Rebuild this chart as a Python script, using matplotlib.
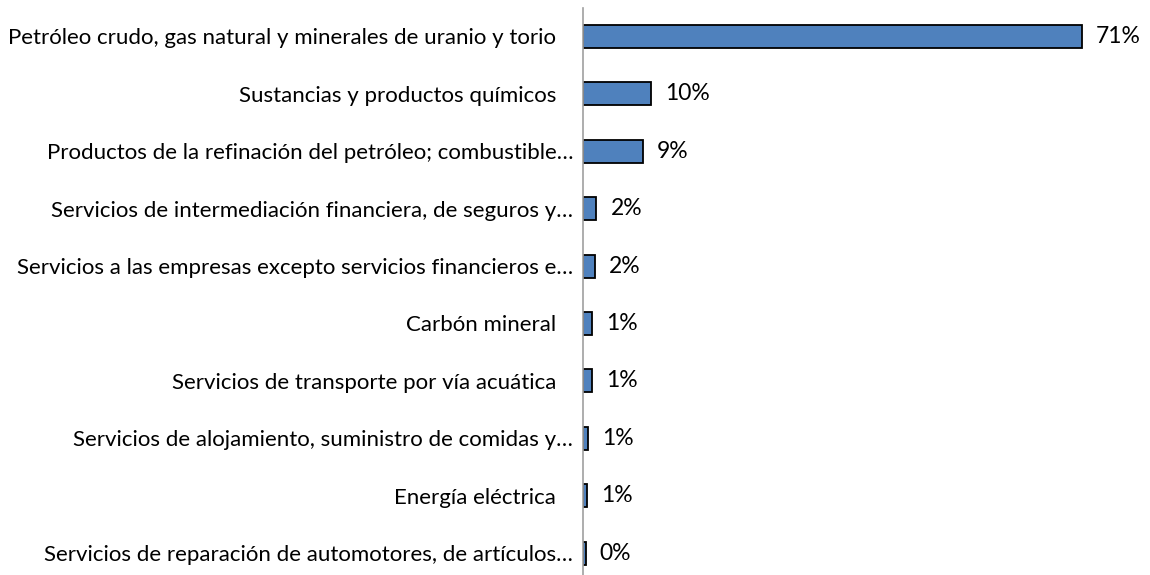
import matplotlib
matplotlib.use("Agg")
import matplotlib.pyplot as plt

categories = [
    "Petróleo crudo, gas natural y minerales de uranio y torio   ",
    "Sustancias y productos químicos   ",
    "Productos de la refinación del petróleo; combustible…",
    "Servicios de intermediación financiera, de seguros y…",
    "Servicios a las empresas excepto servicios financieros e…",
    "Carbón mineral   ",
    "Servicios de transporte por vía acuática   ",
    "Servicios de alojamiento, suministro de comidas y…",
    "Energía eléctrica   ",
    "Servicios de reparación de automotores, de artículos…",
]
values = [71.0, 9.7, 8.5, 1.9, 1.7, 1.3, 1.25, 0.65, 0.6, 0.4]
value_labels = ["71%", "10%", "9%", "2%", "2%", "1%", "1%", "1%", "1%", "0%"]

W, H = 1150, 575
plt.rcParams['font.family'] = ['Lato', 'DejaVu Sans']
fig = plt.figure(figsize=(W / 100, H / 100), dpi=100)

ax_left = 583 / W
px_per_unit = 7.03
xmax = 80
ax_w = xmax * px_per_unit / W
top_px, bot_px = 7.8, 575
spacing = 57.4
ax = fig.add_axes([ax_left, 1 - bot_px / H, ax_w, (bot_px - top_px) / H])

ypos = list(range(len(categories)))
ax.barh(ypos, values, height=0.4, color="#4F81BD", edgecolor="black", linewidth=1.3)
for y, v, lab in zip(ypos, values, value_labels):
    ax.text(v + 2.0, y, lab, va="center", ha="left", fontsize=16.5, color="black")

ax.set_xlim(0, xmax)
ax.set_ylim(-0.5 + (bot_px - top_px) / spacing, -0.5)
ax.set_yticks(ypos)
ax.set_yticklabels(categories, fontsize=16)
ax.tick_params(axis="y", length=0, pad=7)
ax.set_xticks([])
for s in ["top", "right", "bottom"]:
    ax.spines[s].set_visible(False)
ax.spines["left"].set_color("#A0A0A0")
ax.spines["left"].set_linewidth(1.2)

fig.savefig("out.png", dpi=100)
